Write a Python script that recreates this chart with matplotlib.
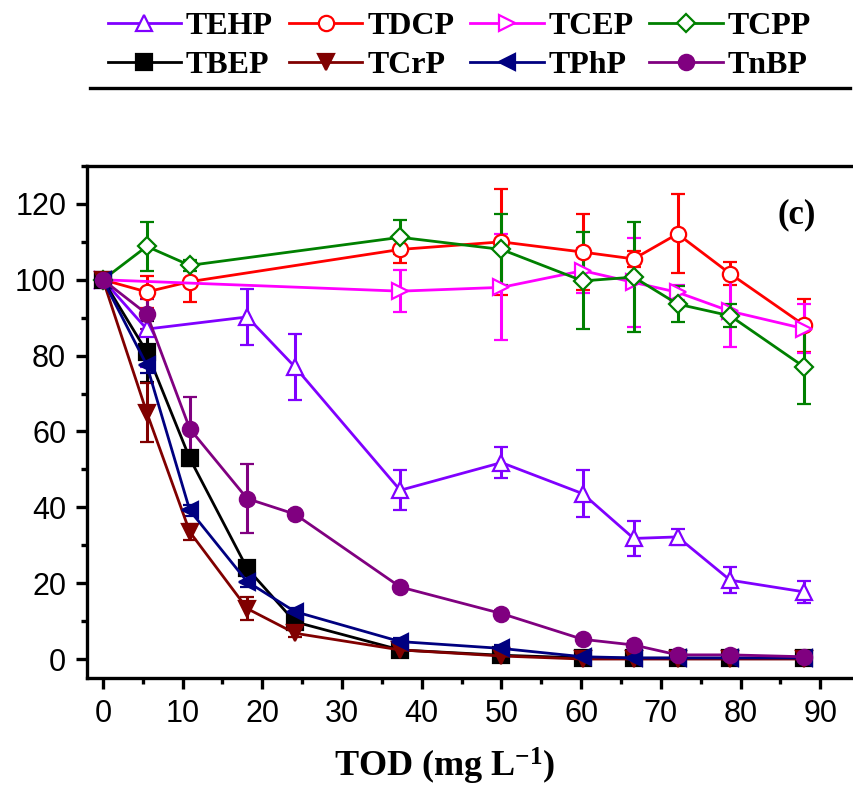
import numpy as np
import matplotlib
matplotlib.use("Agg")
import matplotlib.pyplot as plt
from matplotlib.lines import Line2D
from matplotlib.ticker import MultipleLocator

plt.rcParams['mathtext.fontset'] = 'custom'
plt.rcParams['mathtext.rm'] = 'Liberation Serif:bold'
plt.rcParams['mathtext.default'] = 'rm'

# ---- data: removal (%) vs TOD (mg/L) ----
x_all = [0, 5.5, 10.9, 18.1, 24.1, 37.3, 50.0, 60.2, 66.6, 72.1, 78.7, 88.0]

tehp_x = [0, 5.5, 18.1, 24.1, 37.3, 50.0, 60.2, 66.6, 72.1, 78.7, 88.0]
tehp_y = [100, 87.0, 90.2, 77.0, 44.5, 51.8, 43.6, 31.8, 32.2, 20.8, 17.7]
tehp_e = [0, 10.0, 7.5, 8.7, 5.3, 4.0, 6.2, 4.7, 2.0, 3.4, 3.0]

tdcp_x = [0, 5.5, 10.9, 37.3, 50.0, 60.2, 66.6, 72.1, 78.7, 88.0]
tdcp_y = [100, 96.8, 99.5, 108.0, 110.0, 107.3, 105.5, 112.1, 101.6, 88.0]
tdcp_e = [0, 4.2, 5.3, 3.5, 14.0, 10.0, 2.0, 10.4, 3.0, 7.0]

tcep_x = [0, 37.3, 50.0, 60.2, 66.6, 72.1, 78.7, 88.0]
tcep_y = [100, 97.0, 98.0, 102.4, 99.3, 96.7, 91.7, 87.1]
tcep_e = [0, 5.5, 14.0, 6.0, 11.8, 2.0, 9.4, 6.5]

tcpp_x = [0, 5.5, 10.9, 37.3, 50.0, 60.2, 66.6, 72.1, 78.7, 88.0]
tcpp_y = [100, 108.8, 103.8, 111.2, 108.0, 99.7, 100.7, 93.6, 90.5, 77.0]
tcpp_e = [0, 6.4, 1.5, 4.5, 9.3, 12.8, 14.5, 4.7, 3.0, 9.7]

tbep_y = [100, 81.0, 52.9, 23.9, 9.8, 2.4, 1.0, 0.3, 0.2, 0.2, 0.2, 0.2]
tbep_e = [0, 8.0, 2.0, 1.5, 1.0, 0.8, 1.0, 1.0, 1.0, 0.8, 0.8, 0.8]

tcrp_y = [100, 65.0, 33.5, 13.3, 6.8, 2.4, 0.8, 0, 0, 0, 0, 0]
tcrp_e = [0, 7.7, 2.0, 3.1, 1.0, 1.0, 1.5, 1.0, 1.0, 1.0, 1.0, 1.0]

tphp_y = [100, 77.5, 39.2, 20.4, 12.5, 4.6, 2.8, 0.6, 0.3, 0.3, 0.3, 0.3]
tphp_e = [0, 2.0, 1.5, 1.5, 1.0, 1.0, 1.0, 1.0, 1.0, 1.0, 1.0, 1.0]

tnbp_y = [100, 91.0, 60.7, 42.3, 38.2, 19.0, 12.0, 5.2, 3.7, 1.1, 1.1, 0.6]
tnbp_e = [0, 4.0, 8.3, 9.1, 1.0, 1.0, 1.0, 1.0, 1.0, 0.5, 0.5, 0.5]

series = [
    ('TEHP', tehp_x, tehp_y, tehp_e, '#8000FF', '^', True),
    ('TDCP', tdcp_x, tdcp_y, tdcp_e, '#FF0000', 'o', True),
    ('TCEP', tcep_x, tcep_y, tcep_e, '#FF00FF', '>', True),
    ('TCPP', tcpp_x, tcpp_y, tcpp_e, '#008000', 'D', True),
    ('TBEP', x_all, tbep_y, tbep_e, '#000000', 's', False),
    ('TCrP', x_all, tcrp_y, tcrp_e, '#800000', 'v', False),
    ('TPhP', x_all, tphp_y, tphp_e, '#000080', '<', False),
    ('TnBP', x_all, tnbp_y, tnbp_e, '#800080', 'o', False),
]

fig = plt.figure(figsize=(8.54, 7.87), dpi=100)
# axes runs past the right edge of the figure
ax = fig.add_axes([87 / 854, 1 - 678 / 787, 789 / 854, 512 / 787])

handles = []
for name, xs, ys, es, col, mk, hollow in series:
    ms = 9 if mk == 'D' else 11
    eb = ax.errorbar(xs, ys, yerr=es, color=col, lw=2, marker=mk, ms=ms,
                     mfc='white' if hollow else col, mec=col, mew=1.6,
                     elinewidth=2.2, capsize=5, capthick=2.2)
    handles.append(eb.lines[0])

ax.set_xlim(-2, 97)
ax.set_ylim(-5, 130)
ax.xaxis.set_minor_locator(MultipleLocator(5))
ax.yaxis.set_minor_locator(MultipleLocator(10))
ax.set_yticks(np.arange(0, 121, 20))
ax.set_xticks(np.arange(0, 91, 10))

for sp in ax.spines.values():
    sp.set_linewidth(2.4)

ax.tick_params(which='major', direction='out', length=8, width=2.4, pad=7)
ax.tick_params(which='minor', direction='out', length=4.5, width=2.4)
for lab in ax.get_xticklabels() + ax.get_yticklabels():
    lab.set_fontfamily(['Liberation Sans Narrow', 'Liberation Sans'])
    lab.set_fontsize(22)

ax.text(0.90, 0.905, '(c)', transform=ax.transAxes, ha='center', va='center',
        fontsize=25, fontweight='bold', family='Liberation Serif')

fig.text(445 / 854, 1 - 766 / 787, r'TOD (mg L$^{-1}$)', ha='center', va='center',
         fontsize=26, fontweight='bold', family='Liberation Serif')

labels = [s[0] for s in series]
order = [0, 4, 1, 5, 2, 6, 3, 7]
fig.legend([handles[i] for i in order], [labels[i] for i in order], ncol=4,
           loc='upper left', bbox_to_anchor=(90 / 854, 1 + 6 / 787), frameon=False,
           prop=dict(family='Liberation Serif', weight='bold', size=23),
           handlelength=2.3, handletextpad=0.15, columnspacing=0.5,
           labelspacing=0.3, borderpad=0.05)

fig.add_artist(Line2D([90 / 854, 850 / 854], [1 - 88 / 787] * 2,
                      transform=fig.transFigure, color='black', lw=2.4))

fig.savefig('out.png', dpi=100)
